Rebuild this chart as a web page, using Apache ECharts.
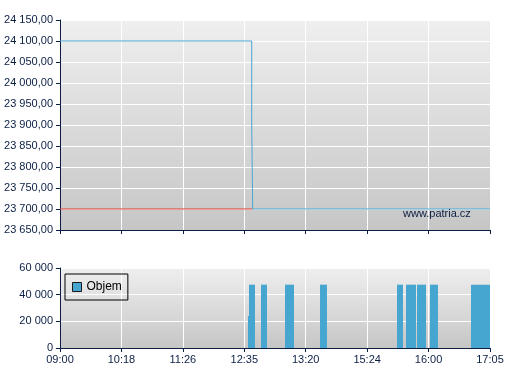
<!DOCTYPE html>
<html><head><meta charset="utf-8">
<script src="https://cdn.jsdelivr.net/npm/echarts@6/dist/echarts.min.js"></script>
<style>html,body{margin:0;padding:0;background:#fff}#c{width:507px;height:380px}</style>
</head><body><div id="c"></div>
<script>
// x axis: ordinal positions 0..7, labelled with these times
var xLabels = ['09:00', '10:18', '11:26', '12:35', '13:20', '15:24', '16:00', '17:05'];
// price (step line): position, price
var priceX = [0, 3.121, 3.137, 7];
var priceY = [24100, 23900, 23700, 23700];
// reference (previous close) level, visible until the price reaches it
var refLevel = 23700;
var refEnd = 3.137;
// volume bars: start position, end position, volume
var volStart = [3.060, 3.077, 3.272, 3.663, 4.233, 5.486, 5.633, 5.812, 6.023, 6.691];
var volEnd   = [3.077, 3.174, 3.370, 3.809, 4.346, 5.584, 5.795, 5.958, 6.153, 7.000];
var volValue = [24000, 47500, 47500, 47500, 47500, 47500, 47500, 47500, 47500, 47500];

var navy = '#0b1f45';
var font = 'Liberation Sans';
function fmtNum(v, dec) {
  var s = v.toFixed(dec);
  var parts = s.split('.');
  var ip = parts[0].replace(/\B(?=(\d{3})+(?!\d))/g, ' ');
  return dec ? ip + ',' + parts[1] : ip;
}
function bg() {
  return new echarts.graphic.LinearGradient(0, 0, 0, 1, [
    {offset: 0, color: '#efefef'}, {offset: 1, color: '#c6c6c6'}]);
}
var chart = echarts.init(document.getElementById('c'));
var priceData = priceX.map(function (x, i) { return [x, priceY[i]]; });
var volData = volStart.map(function (s, i) { return [s, volEnd[i], volValue[i]]; });
var axisCommon = {
  type: 'value', min: 0, max: 7, interval: 1,
  axisLine: {show: true, lineStyle: {color: navy, width: 1}},
  axisTick: {show: true, length: 4, lineStyle: {color: navy}},
  splitLine: {show: true, lineStyle: {color: '#ffffff', width: 1}}
};
chart.setOption({
  animation: false,
  textStyle: {fontFamily: font},
  grid: [
    {left: 60, right: 17, top: 20, height: 210, show: true, backgroundColor: bg(), borderWidth: 0},
    {left: 60, right: 17, top: 268, height: 80, show: true, backgroundColor: bg(), borderWidth: 0}
  ],
  legend: {
    data: ['Objem'], left: 65, top: 274, orient: 'horizontal',
    borderColor: '#000', borderWidth: 1, borderRadius: 0, padding: [7, 6, 7, 7],
    itemWidth: 9, itemHeight: 9, itemGap: 0, icon: 'rect',
    itemStyle: {borderColor: '#1a1a1a', borderWidth: 1},
    textStyle: {fontSize: 12, color: '#000', fontFamily: font}
  },
  xAxis: [
    Object.assign({}, axisCommon, {gridIndex: 0, axisLabel: {show: false}}),
    Object.assign({}, axisCommon, {gridIndex: 1, axisLabel: {
      show: true, color: navy, fontSize: 11, fontFamily: font, margin: 6,
      formatter: function (v) { return xLabels[Math.round(v)] || ''; }
    }})
  ],
  yAxis: [
    {type: 'value', gridIndex: 0, min: 23650, max: 24150, interval: 50,
     axisLine: {show: true, lineStyle: {color: navy}},
     axisTick: {show: true, length: 4, lineStyle: {color: navy}},
     splitLine: {show: true, lineStyle: {color: '#ffffff', width: 1}},
     axisLabel: {color: navy, fontSize: 11, fontFamily: font, margin: 7,
       formatter: function (v) { return fmtNum(v, 2); }}},
    {type: 'value', gridIndex: 1, min: 0, max: 60000, interval: 20000,
     axisLine: {show: true, lineStyle: {color: navy}},
     axisTick: {show: true, length: 4, lineStyle: {color: navy}},
     splitLine: {show: true, lineStyle: {color: '#ffffff', width: 1}},
     axisLabel: {color: navy, fontSize: 11, fontFamily: font, margin: 7,
       formatter: function (v) { return fmtNum(v, 0); }}}
  ],
  graphic: [{
    type: 'text', left: 403, top: 208, z: 100,
    style: {text: 'www.patria.cz', fill: navy, font: '11px "Liberation Sans"'}
  }],
  series: [
    {name: 'ref', type: 'line', xAxisIndex: 0, yAxisIndex: 0, symbol: 'none', silent: true, z: 2,
     data: [[0, refLevel], [refEnd, refLevel]], lineStyle: {color: '#e03a32', width: 1}},
    {name: 'Cena', type: 'line', xAxisIndex: 0, yAxisIndex: 0, symbol: 'none', step: 'end', z: 3,
     data: priceData, lineStyle: {color: '#4aa6d4', width: 1}},
    {name: 'Objem', type: 'custom', xAxisIndex: 1, yAxisIndex: 1,
     itemStyle: {color: '#46a6cf'},
     encode: {x: [0, 1], y: 2},
     data: volData,
     renderItem: function (params, api) {
       var a = api.coord([api.value(0), api.value(2)]);
       var b = api.coord([api.value(1), 0]);
       return {type: 'rect', shape: {x: a[0], y: a[1], width: b[0] - a[0], height: b[1] - a[1]},
               style: {fill: '#46a6cf'}};
     }}
  ]
});
</script></body></html>
